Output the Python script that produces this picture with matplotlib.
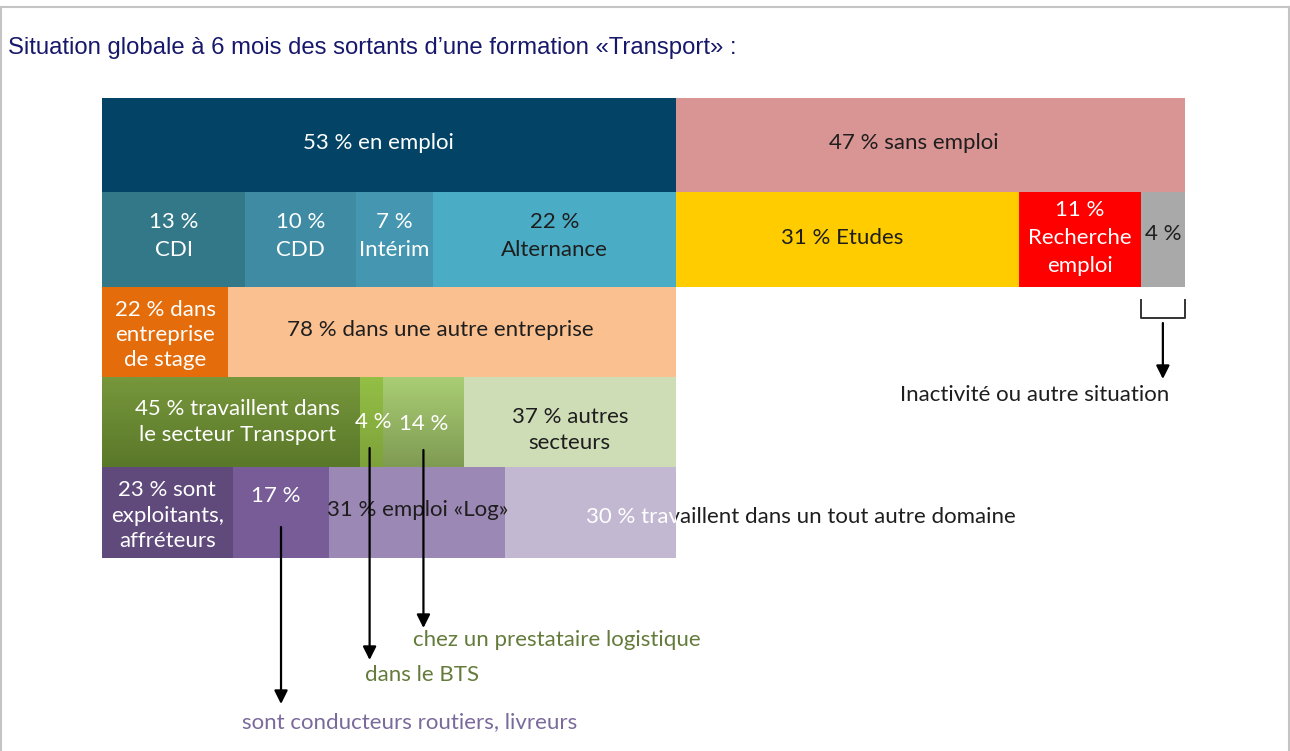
import matplotlib.pyplot as plt
import matplotlib.colors as mcolors
from matplotlib.lines import Line2D
from matplotlib.patches import Rectangle
import numpy as np

# Situation des sortants d'une formation "Transport" (en %)
title = "Situation globale à 6 mois des sortants d’une formation «Transport» :"

status_labels = ["53 % en emploi", "47 % sans emploi"]
status_values = [53, 47]

contract_labels = ["13 %\nCDI", "10 %\nCDD", "7 %\nIntérim", "22 %\nAlternance"]
contract_values = [13, 10, 7, 22]

noemploy_labels = ["31 % Etudes", "11 %\nRecherche\nemploi", "4 %"]
noemploy_values = [31, 11, 4]

company_labels = ["22 % dans\nentreprise\nde stage", "78 % dans une autre entreprise"]
company_values = [22, 78]

sector_labels = ["45 % travaillent dans\nle secteur Transport", "4 %", "14 %",
                 "37 % autres\nsecteurs"]
sector_values = [45, 4, 14, 37]

job_labels = ["23 % sont\nexploitants,\naffréteurs", "17 %", "31 % emploi «Log»",
              "30 % travaillent dans un tout autre domaine"]
job_values = [23, 17, 31, 30]

inactive_note = "Inactivité ou autre situation"
driver_note = "sont conducteurs routiers, livreurs"
bts_note = "dans le BTS"
logistic_note = "chez un prestataire logistique"

# colours
status_colors = ["#034466", "#d99594"]
contract_colors = ["#337889", "#3e8ba3", "#4597b1", "#4bacc6"]
noemploy_colors = ["#ffcc00", "#ff0000", "#a9a9a9"]
company_colors = ["#e46c0a", "#fac090"]
sector_colors = ["#6a8a32", "#8db640", "#99bb63", "#cfddb7"]
job_colors = ["#604a7b", "#775c97", "#9c88b4", "#c2b8d2"]

WHITE = "white"
DARK = "#1e1e1e"
BOX_FONT = "Lato"
FS = 16

W, H = 1290, 751
fig = plt.figure(figsize=(W / 100, H / 100), dpi=100)
# x runs 0-100 %, y runs in pixels down from the top of the block
ax = fig.add_axes([102 / W, 1 - 558 / H, 1083 / W, 460 / H])
row_edges = [0, 94, 189, 279, 369, 460]


def draw_row(row, values, start, span, colors):
    values = np.asarray(values, float)
    widths = values / values.sum() * span
    lefts = start + np.concatenate([[0], np.cumsum(widths)[:-1]])
    y0, y1 = row_edges[row], row_edges[row + 1]
    return ax.barh((y0 + y1) / 2, widths, left=lefts, height=y1 - y0,
                   color=colors, linewidth=0, zorder=1)


def shade(bar, top, bottom):
    # vertical gradient laid over a bar
    x0, y0, w, h = bar.get_x(), bar.get_y(), bar.get_width(), bar.get_height()
    t = np.linspace(0, 1, 64)[:, None, None]
    a, b = np.array(mcolors.to_rgb(top)), np.array(mcolors.to_rgb(bottom))
    img = a + (b - a) * t
    ax.imshow(img, extent=(x0, x0 + w, y0 + h, y0), aspect="auto",
              origin="upper", zorder=1.5, interpolation="bilinear")


def centre(bar):
    return bar.get_x() + bar.get_width() / 2, bar.get_y() + bar.get_height() / 2


def put(x, y, s, color, size=FS, ha="center", ls=1.4, **kw):
    return ax.text(x, y, s, ha=ha, va="center", color=color, fontsize=size,
                   family=BOX_FONT, linespacing=ls, zorder=3, **kw)


def put_in(bar, s, color, dx=0, dy=0, **kw):
    x, y = centre(bar)
    return put(x + dx, y + dy, s, color, **kw)


status = draw_row(0, status_values, 0, 100, status_colors)
contract = draw_row(1, contract_values, 0, status_values[0], contract_colors)
noemploy = draw_row(1, noemploy_values, status_values[0], status_values[1], noemploy_colors)
company = draw_row(2, company_values, 0, status_values[0], company_colors)
sector = draw_row(3, sector_values, 0, status_values[0], sector_colors)
job = draw_row(4, job_values, 0, status_values[0], job_colors)

shade(sector[0], "#77973c", "#5a7829")
shade(sector[1], "#93bf45", "#7ea23a")
shade(sector[2], "#a9cd74", "#7f9b53")

# labels in the boxes
put_in(status[0], status_labels[0], WHITE, dx=-1.0, dy=-2)
put_in(status[1], status_labels[1], DARK, dx=-1.5, dy=-2)
for bar, lab, c in zip(contract, contract_labels, [WHITE, WHITE, WHITE, DARK]):
    put_in(bar, lab, c, dy=-3, ls=1.5)
put_in(noemploy[0], noemploy_labels[0], DARK, dx=-0.5, dy=-1.5)
put_in(noemploy[1], noemploy_labels[1], WHITE, dy=-1.5, ls=1.5)
put_in(noemploy[2], noemploy_labels[2], DARK, dy=-5.5)
put_in(company[0], company_labels[0], WHITE, dy=3, ls=1.3)
put_in(company[1], company_labels[1], DARK, dx=-1.1, dy=-2)
put_in(sector[0], sector_labels[0], WHITE, dx=0.6)
put_in(sector[1], sector_labels[1], WHITE, dx=0.1)
put_in(sector[2], sector_labels[2], WHITE, dy=2)
put_in(sector[3], sector_labels[3], DARK, dy=8)
put_in(job[0], job_labels[0], WHITE, dy=3, ls=1.35)
put_in(job[1], job_labels[1], WHITE, dx=-0.5, dy=-17)
put_in(job[2], job_labels[2], DARK, dy=-3)

# the last label runs out of its box: white inside, black outside
last = job[3]
inside = Rectangle((last.get_x(), last.get_y()), last.get_width(), last.get_height(),
                   transform=ax.transData)
outside = Rectangle((last.get_x() + last.get_width(), last.get_y() - 100), 100, 300,
                    transform=ax.transData)
tx, ty = last.get_x() + 7.4, centre(last)[1] + 4.5
t1 = put(tx, ty, job_labels[3], WHITE, ha="left", clip_on=True)
t1.set_clip_path(inside)
t2 = put(tx, ty, job_labels[3], DARK, ha="left", clip_on=True)
t2.set_clip_path(outside)

# arrows and call-outs
arrow = dict(arrowstyle="-|>", color="black", lw=1.6, mutation_scale=20,
             shrinkA=0, shrinkB=0)


def callout(x, y0, y1):
    ax.annotate("", xy=(x, y1), xytext=(x, y0), arrowprops=arrow,
                annotation_clip=False, zorder=4)


gray = noemploy[2]
gx0, gx1 = gray.get_x(), gray.get_x() + gray.get_width()
ax.plot([gx0, gx0, gx1, gx1], [202, 220, 220, 202], color="#333333", lw=1.4,
        clip_on=False, zorder=4)
callout((gx0 + gx1) / 2, 225, 281)
put(86.1, 297, inactive_note, DARK)

callout(centre(job[1])[0], 429, 606)
put(12.9, 624, driver_note, "#7a6a9c", ha="left")

callout(centre(sector[1])[0] - 0.2, 350, 562)
put(24.3, 577, bts_note, "#647b3b", ha="left")

callout(centre(sector[2])[0], 352, 530)
put(28.7, 542, logistic_note, "#647b3b", ha="left")

ax.set_xlim(0, 100)
ax.set_ylim(row_edges[-1], 0)
ax.axis("off")

# title and frame
fig.text(8 / W, 1 - 48 / H, title, color="#17186b", fontsize=17.2,
         family="Liberation Sans", va="center")
frame = dict(color="#c4c4c4", lw=1.5, transform=fig.transFigure)
top = 1 - 7 / H
fig.add_artist(Line2D([1 / W, 1 / W], [0, top], **frame))
fig.add_artist(Line2D([1 - 1 / W, 1 - 1 / W], [0, top], **frame))
fig.add_artist(Line2D([1 / W, 1 - 1 / W], [top, top], **frame))

fig.savefig("out.png", dpi=100, facecolor="white")
